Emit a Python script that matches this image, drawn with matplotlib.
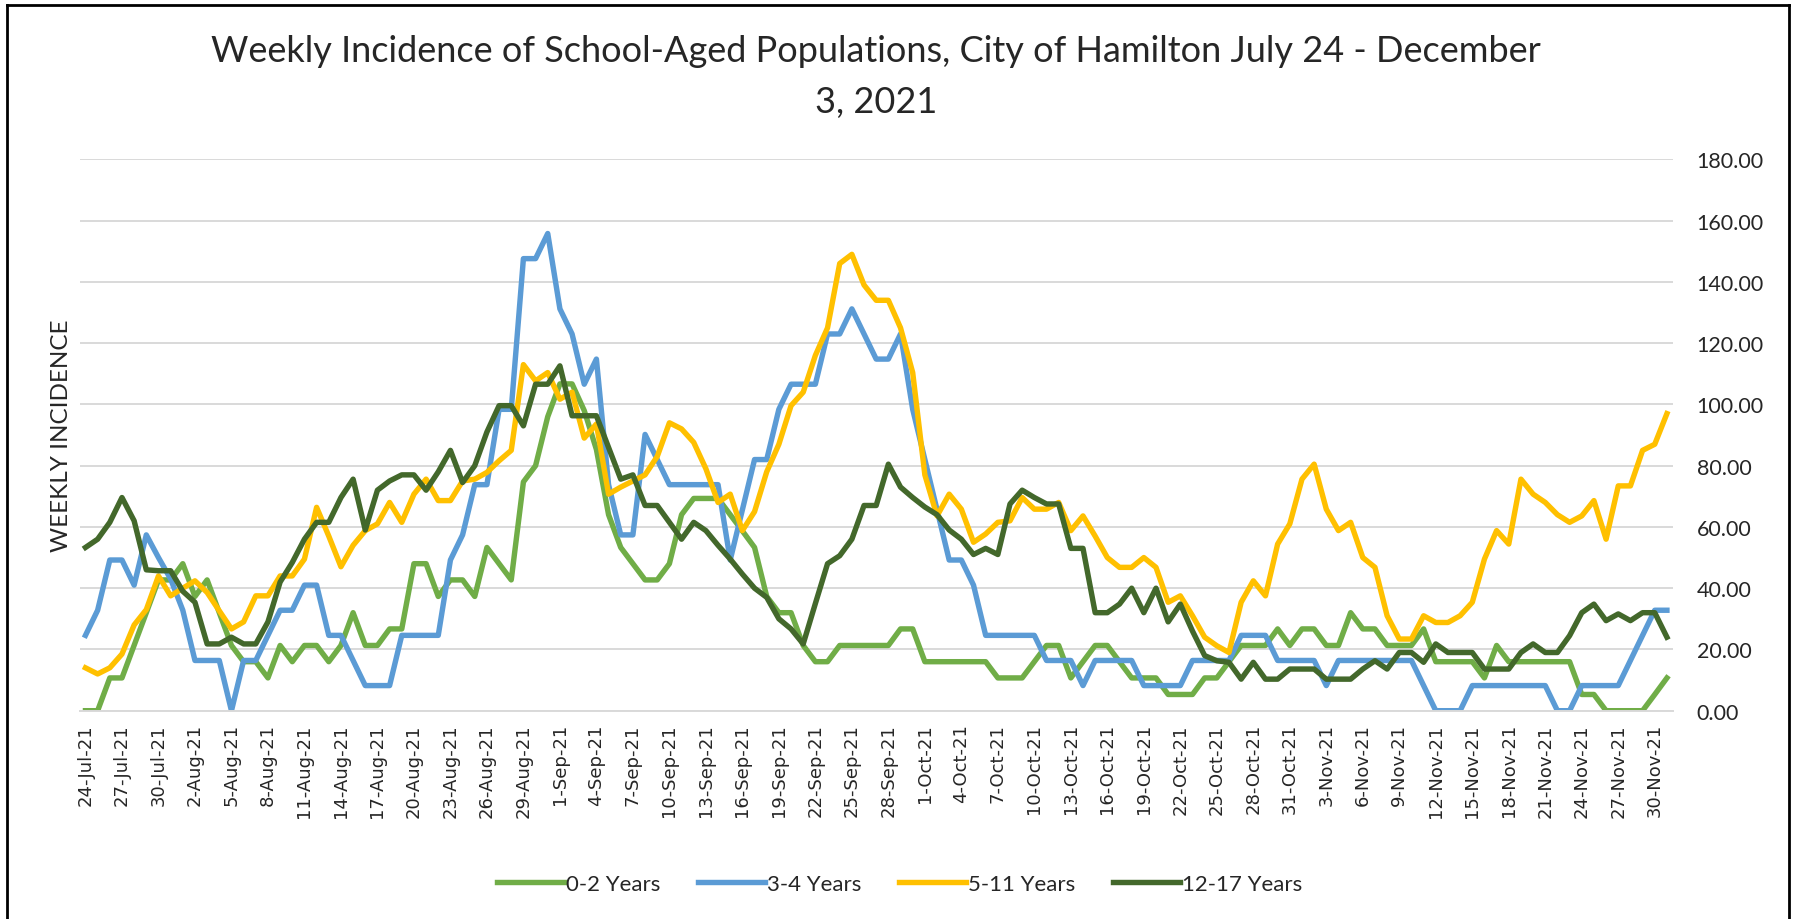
import numpy as np
import pandas as pd
import matplotlib
matplotlib.use("Agg")
import matplotlib.pyplot as plt
from matplotlib.lines import Line2D

# ----------------------------
# Data
# ----------------------------

dates = pd.date_range("2021-07-24", "2021-12-01", freq="D")

age_0_2 = [
    0, 0, 10.7, 10.7, 21.3, 32, 42.7, 42.7, 48, 37.3,
    42.7, 32, 21.3, 16, 16, 10.7, 21.3, 16, 21.3, 21.3,
    16, 21.3, 32, 21.3, 21.3, 26.7, 26.7, 48, 48, 37.3,
    42.7, 42.7, 37.3, 53.3, 48, 42.7, 74.7, 80, 96, 106.7,
    106.7, 98, 85.3, 64, 53.3, 48, 42.7, 42.7, 48, 64,
    69.3, 69.3, 69.3, 64, 58.7, 53.3, 37.3, 32, 32, 21.3,
    16, 16, 21.3, 21.3, 21.3, 21.3, 21.3, 26.7, 26.7, 16,
    16, 16, 16, 16, 16, 10.7, 10.7, 10.7, 16, 21.3,
    21.3, 10.7, 16, 21.3, 21.3, 16, 10.7, 10.7, 10.7, 5.3,
    5.3, 5.3, 10.7, 10.7, 16, 21.3, 21.3, 21.3, 26.7, 21.3,
    26.7, 26.7, 21.3, 21.3, 32, 26.7, 26.7, 21.3, 21.3, 21.3,
    26.7, 16, 16, 16, 16, 10.7, 21.3, 16, 16, 16,
    16, 16, 16, 5.3, 5.3, 0, 0, 0, 0, 5.3,
    10.7,
]

age_3_4 = [
    24.6, 32.8, 49.2, 49.2, 41, 57.4, 50, 43, 32.8, 16.4,
    16.4, 16.4, 0, 16.4, 16.4, 24.6, 32.8, 32.8, 41, 41,
    24.6, 24.6, 16.4, 8.2, 8.2, 8.2, 24.6, 24.6, 24.6, 24.6,
    49.2, 57.4, 73.8, 73.8, 98.4, 98.4, 147.6, 147.6, 155.8, 131.2,
    123, 106.6, 114.8, 73.8, 57.4, 57.4, 90.2, 82, 73.8, 73.8,
    73.8, 73.8, 73.8, 49.2, 65.6, 82, 82, 98.4, 106.6, 106.6,
    106.6, 123, 123, 131.2, 123, 114.8, 114.8, 123, 98.4, 82,
    65.6, 49.2, 49.2, 41, 24.6, 24.6, 24.6, 24.6, 24.6, 16.4,
    16.4, 16.4, 8.2, 16.4, 16.4, 16.4, 16.4, 8.2, 8.2, 8.2,
    8.2, 16.4, 16.4, 16.4, 16.4, 24.6, 24.6, 24.6, 16.4, 16.4,
    16.4, 16.4, 8.2, 16.4, 16.4, 16.4, 16.4, 16.4, 16.4, 16.4,
    8.2, 0, 0, 0, 8.2, 8.2, 8.2, 8.2, 8.2, 8.2,
    8.2, 0, 0, 8.2, 8.2, 8.2, 8.2, 16.4, 24.6, 32.8,
    32.8,
]

age_5_11 = [
    14, 12, 14, 18.5, 28, 33, 44, 37.5, 40, 42.4,
    38.6, 32.6, 26.7, 29, 37.5, 37.5, 44, 44, 49.5, 66.4,
    57, 47, 54, 58.8, 61, 68, 61.5, 70.7, 75.6, 68.6,
    68.6, 75, 75.6, 77.8, 81.6, 85, 113, 107.7, 110.4, 101.7,
    104, 89, 93.6, 70.7, 73, 75, 77, 83, 94, 92,
    87.6, 79, 68, 70.7, 58.8, 65, 78, 87, 99.6, 104,
    116, 125, 146, 149, 139, 134, 134, 125, 110.4, 77,
    63.6, 70.7, 65.8, 55, 57.7, 61.5, 62, 69.6, 65.8, 65.8,
    68, 58.8, 63.6, 57, 50, 46.8, 46.8, 50, 46.8, 35.4,
    37.5, 31, 24, 21.2, 19, 35.4, 42.4, 37.5, 54.4, 61,
    75.6, 80.5, 65.8, 58.8, 61.5, 50, 46.8, 31, 23.4, 23.4,
    31, 28.8, 28.8, 31, 35.4, 49.5, 58.8, 54.4, 75.6, 70.7,
    68, 64, 61.5, 63.6, 68.6, 56, 73.4, 73.4, 85, 87,
    97,
]

age_12_17 = [
    53.3, 56, 61.5, 69.6, 62, 46, 45.7, 45.7, 39, 35.4,
    21.8, 21.8, 24, 21.8, 21.8, 29, 42, 48.4, 56, 61.5,
    61.5, 69.6, 75.6, 59, 72, 75, 77, 77, 72, 78,
    85, 74.5, 80, 91, 99.6, 99.6, 93, 106.6, 106.6, 112.6,
    96.3, 96.3, 96.3, 86, 75.6, 77, 67, 67, 61.5, 56,
    61.5, 58.8, 54, 49.5, 44.6, 40, 37, 30, 26.7, 21.8,
    35, 48, 50.6, 56, 67, 67, 80.5, 73, 69.6, 66.5,
    64, 59, 56, 51, 53, 51, 67.5, 72, 69.6, 67.5,
    67.5, 53, 53, 32, 32, 34.8, 40, 32, 40, 29,
    34.8, 26, 18, 16.3, 15.8, 10.3, 15.8, 10.3, 10.3, 13.6,
    13.6, 13.6, 10.3, 10.3, 10.3, 13.6, 16.3, 13.6, 19, 19,
    15.8, 21.8, 19, 19, 19, 13.6, 13.6, 13.6, 19, 21.8,
    19, 19, 24.5, 32, 34.8, 29.4, 31.6, 29.4, 32, 32,
    24,
]

series_names = ["0-2 Years", "3-4 Years", "5-11 Years", "12-17 Years"]
series_values = [age_0_2, age_3_4, age_5_11, age_12_17]
series_colors = ["#70AD47", "#5B9BD5", "#FFC000", "#43682B"]

tick_labels = [f"{d.day}-{d.strftime('%b')}-{d.strftime('%y')}" for d in dates]

# ----------------------------
# Plot
# ----------------------------

fig = plt.figure(figsize=(17.99, 9.2), dpi=100)
ax = fig.add_axes([80 / 1799, 1 - 711.7 / 920, (1673 - 80) / 1799, (711.7 - 160.4) / 920])

x = np.arange(len(dates))
for name, vals, col in zip(series_names, series_values, series_colors):
    ax.plot(x, vals, color=col, linewidth=3.9, label=name, solid_joinstyle="round")

ax.set_xlim(-0.45, len(dates) - 0.5)
ax.set_ylim(0, 180)
ax.set_yticks(np.arange(0, 181, 20))
ax.set_yticklabels([f"{v:.2f}" for v in np.arange(0, 181, 20)])
ax.yaxis.tick_right()
ax.grid(axis="y", color="#D9D9D9", linewidth=1.4)
ax.set_axisbelow(True)

ax.set_xticks(x[::3])
ax.set_xticklabels(tick_labels[::3], rotation=90, fontsize=13, fontfamily="DejaVu Sans")
ax.tick_params(axis="x", length=0, pad=9, colors="#262626")
ax.tick_params(axis="y", length=0, pad=17, labelsize=15.5, colors="#262626")
for lbl in ax.get_yticklabels():
    lbl.set_fontfamily("Lato")

for side in ["top", "left", "right"]:
    ax.spines[side].set_visible(False)
ax.spines["bottom"].set_color("#D9D9D9")
ax.spines["bottom"].set_linewidth(1.4)

ax.set_ylabel("WEEKLY INCIDENCE", fontsize=17.5, fontfamily="Lato", color="#262626", labelpad=6)
ax.yaxis.set_label_position("left")

title_font = dict(ha="center", va="center", fontsize=26, fontfamily="Lato",
                  fontweight="normal", color="#262626")
fig.text(876 / 1799, 1 - 52 / 920,
         "Weekly Incidence of School-Aged Populations, City of Hamilton July 24 - December",
         **title_font)
fig.text(876 / 1799, 1 - 103 / 920, "3, 2021", **title_font)

leg = fig.legend(loc="center", bbox_to_anchor=(0.5, 1 - 885 / 920), ncol=4, frameon=False,
                 prop={"family": "Lato", "size": 16}, handlelength=3.0, handletextpad=0.1,
                 columnspacing=1.7)
for t in leg.get_texts():
    t.set_color("#262626")

# frame around chart
fx0, fx1, fy1 = 6.7 / 1799, 1789 / 1799, 1 - 5.7 / 920
fig.add_artist(Line2D([fx0, fx0], [0, fy1], color="black", linewidth=2, transform=fig.transFigure))
fig.add_artist(Line2D([fx0, fx1], [fy1, fy1], color="black", linewidth=2, transform=fig.transFigure))
fig.add_artist(Line2D([fx1, fx1], [0, fy1], color="black", linewidth=2, transform=fig.transFigure))

fig.savefig("out.png", dpi=100)
